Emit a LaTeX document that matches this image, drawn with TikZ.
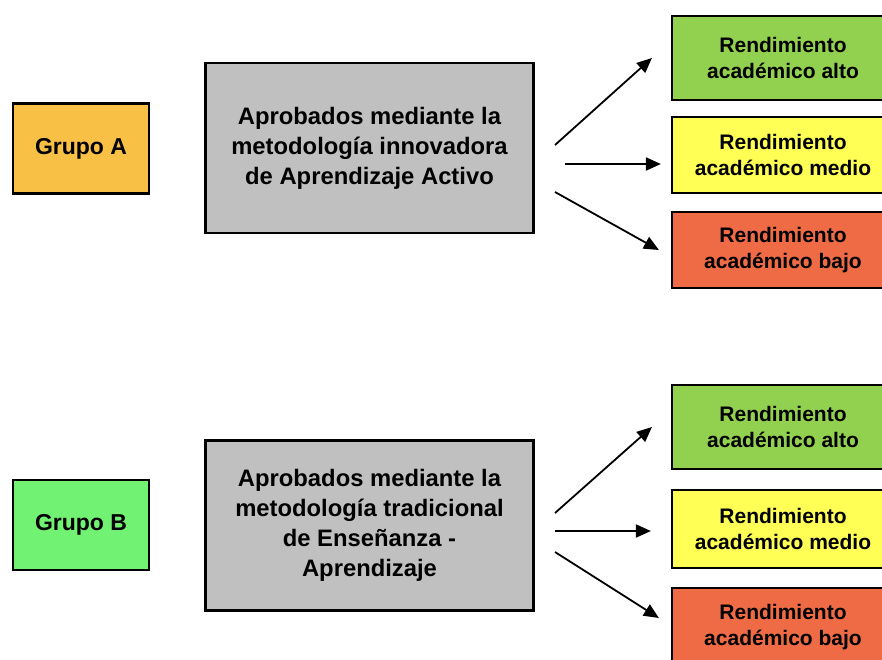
\documentclass[tikz,border=0pt]{standalone}
\usepackage{fontspec}
\setmainfont{Liberation Sans}
\usepackage{tikz}
\usepackage{xcolor}
\usetikzlibrary{arrows.meta}

\definecolor{naranja}{HTML}{F8C045}
\definecolor{verdeB}{HTML}{72F272}
\definecolor{gris}{HTML}{C0C0C0}
\definecolor{verde}{HTML}{92D14F}
\definecolor{amarillo}{HTML}{FFFF55}
\definecolor{rojo}{HTML}{EE6B45}

\tikzset{
  caja/.style={draw=black, line width=2.2pt, inner sep=0pt, align=center,
    font=\bfseries},
  grupo/.style={caja, minimum width=136pt, minimum height=90pt,
    font=\fontsize{23}{27}\selectfont\bfseries},
  metodo/.style={caja, fill=gris, minimum width=328pt, minimum height=170pt,
    font=\fontsize{23.8}{30}\selectfont\bfseries},
  nivel/.style={caja, minimum width=222pt, font=\fontsize{21}{26.5}\selectfont\bfseries},
  flecha/.style={line width=1.8pt, -{Triangle[length=15pt,width=13pt]}}
}

\begin{document}
\begin{tikzpicture}[x=1pt,y=-1pt]
        \useasboundingbox (0,0) rectangle (882,659);

        % grupo A
        \node[grupo, fill=naranja] (grupoA) at (81,148.5) {Grupo A};
        \node[metodo] (metA) at (369.5,148) {Aprobados mediante la\\metodología innovadora\\de Aprendizaje Activo};
        \node[nivel, fill=verde, minimum height=84pt] (altoA) at (783,58) {Rendimiento\\académico alto};
        \node[nivel, fill=amarillo, minimum height=76pt] (medioA) at (783,155) {Rendimiento\\académico medio};
        \node[nivel, fill=rojo, minimum height=76pt] (bajoA) at (783,250) {Rendimiento\\académico bajo};

        \coordinate (sA1) at (555,145);
        \coordinate (sA2) at (565,164);
        \coordinate (sA3) at (555,192);
        \draw[flecha] (sA1) -- ([xshift=-19pt]altoA.west);
        \draw[flecha] (sA2) -- ([xshift=-10pt,yshift=-9pt]medioA.west);
        \draw[flecha] (sA3) -- ([xshift=-12pt]bajoA.west);

        % grupo B
        \node[grupo, fill=verdeB] (grupoB) at (81,525) {Grupo B};
        \node[metodo] (metB) at (369.5,525.5) {Aprobados mediante la\\metodología tradicional\\de Enseñanza -\\Aprendizaje};
        \node[nivel, fill=verde, minimum height=84pt] (altoB) at (783,427) {Rendimiento\\académico alto};
        \node[nivel, fill=amarillo, minimum height=78pt] (medioB) at (783,529) {Rendimiento\\académico medio};
        \node[nivel, fill=rojo, minimum height=78pt] (bajoB) at (783,627) {Rendimiento\\académico bajo};

        \coordinate (sB1) at (555,513);
        \coordinate (sB2) at (555,531);
        \coordinate (sB3) at (555,552);
        \draw[flecha] (sB1) -- ([xshift=-19pt]altoB.west);
        \draw[flecha] (sB2) -- ([xshift=-20pt,yshift=-2pt]medioB.west);
        \draw[flecha] (sB3) -- ([xshift=-12pt,yshift=9pt]bajoB.west);
    \end{tikzpicture}
\end{document}
